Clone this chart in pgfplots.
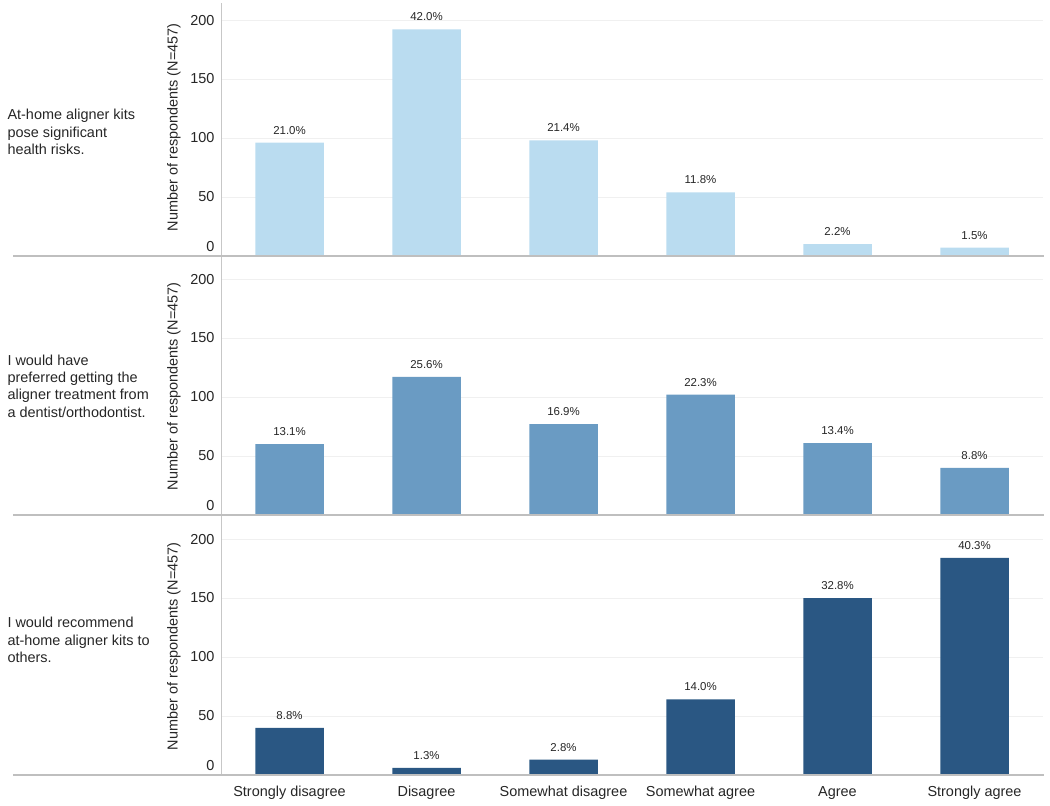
\documentclass[border=0pt]{standalone}
\usepackage{fontspec}
\setmainfont{Liberation Sans}
\usepackage{pgfplots}
\pgfplotsset{compat=1.18}

\definecolor{c1}{HTML}{BADCF0}
\definecolor{c2}{HTML}{6A9BC3}
\definecolor{c3}{HTML}{2A5783}
\definecolor{txt}{HTML}{262626}

\pgfplotsset{
  panel/.style={
    width=822bp, height=257.2bp, scale only axis,
    xmin=-0.5, xmax=5.5, ymin=0, ymax=218,
    axis line style={draw=none},
    major tick length=0,
    ytick={50,100,150,200},
    extra y ticks={0},
    extra y tick style={grid=none, yticklabel style={yshift=9bp}},
    ymajorgrids, major grid style={color=black!6, line width=0.8bp},
    xtick={0,...,5}, xticklabels={},
    /pgf/number format/assume math mode=true,
    tick label style={font=\fontsize{14.5}{16}\selectfont, text=txt},
    yticklabel style={xshift=-3bp},
    ylabel={Number of respondents (N=457)},
    every axis y label/.style={at={(axis description cs:0,0.5)}, xshift=-47bp,
      rotate=90, anchor=center, font=\fontsize{14.5}{16}\selectfont, text=txt},
    ybar, bar width=0.5,
    nodes near coords, point meta=explicit symbolic,
    every node near coord/.append style={font=\fontsize{11.5}{12}\selectfont,
      text=txt, yshift=5bp},
  },
}

\begin{document}
\begin{tikzpicture}
\path[use as bounding box] (0,0) rectangle (1050bp,806bp);

\begin{axis}[panel, at={(221bp,550bp)}, anchor=south west]
\addplot[fill=c1, draw=none] coordinates {
  (0,96) [21.0\%] (1,192) [42.0\%] (2,98) [21.4\%]
  (3,54) [11.8\%] (4,10) [2.2\%] (5,7) [1.5\%]
};
\end{axis}

\begin{axis}[panel, at={(221bp,291bp)}, anchor=south west]
\addplot[fill=c2, draw=none] coordinates {
  (0,60) [13.1\%] (1,117) [25.6\%] (2,77) [16.9\%]
  (3,102) [22.3\%] (4,61) [13.4\%] (5,40) [8.8\%]
};
\end{axis}

\begin{axis}[panel, at={(221bp,31bp)}, anchor=south west,
  xticklabels={Strongly disagree, Disagree, Somewhat disagree, Somewhat agree, Agree, Strongly agree},
  xticklabel style={yshift=-8bp}]
\addplot[fill=c3, draw=none] coordinates {
  (0,40) [8.8\%] (1,6) [1.3\%] (2,13) [2.8\%]
  (3,64) [14.0\%] (4,150) [32.8\%] (5,184) [40.3\%]
};
\end{axis}

% frame lines
\draw[black!22, line width=1bp] (221bp,31bp) -- (221bp,803bp);
\foreach \yy in {550,291,31}
  \draw[black!25, line width=1.2bp] (13bp,\yy bp) -- (1044bp,\yy bp);

% statements
\begin{scope}[every node/.style={anchor=west, align=left, text=txt,
    font=\fontsize{14.5}{17.5}\selectfont}]
\node at (4bp,674bp) {At-home aligner kits\\pose significant\\health risks.};
\node at (4bp,420bp) {I would have\\preferred getting the\\aligner treatment from\\a dentist/orthodontist.};
\node at (4bp,166bp) {I would recommend\\at-home aligner kits to\\others.};
\end{scope}
\end{tikzpicture}
\end{document}
